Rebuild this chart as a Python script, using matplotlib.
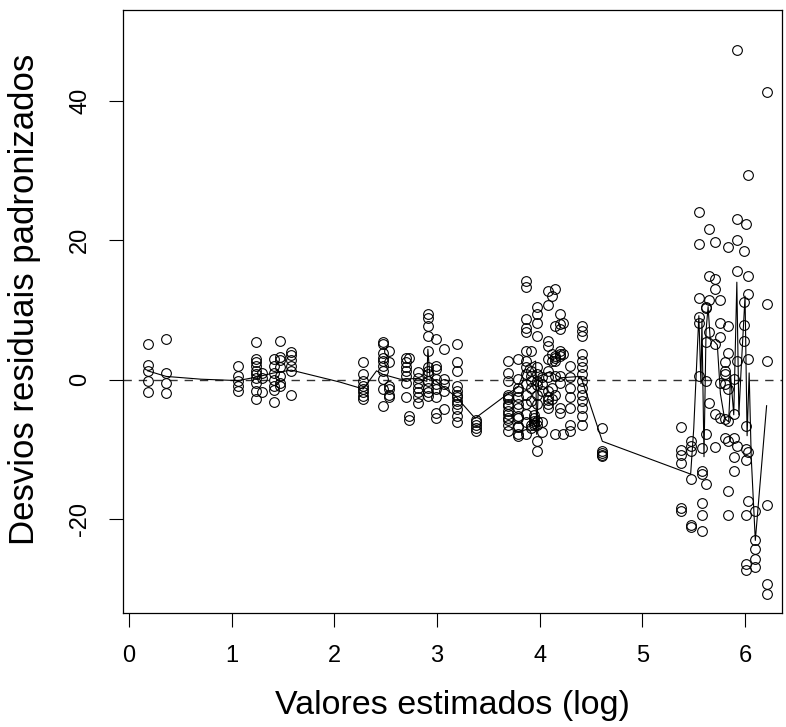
import matplotlib
matplotlib.use("Agg")
import matplotlib.pyplot as plt
import numpy as np

# x position of each vertical stack of points (log of fitted value)
grupos_x = [0.18, 0.36, 1.06, 1.24, 1.29, 1.41, 1.47, 1.58,
            2.28, 2.47, 2.53, 2.70, 2.73, 2.81, 2.91, 2.99, 3.07, 3.19, 3.38,
            3.69, 3.79, 3.87, 3.91, 3.94, 3.97, 4.02, 4.08, 4.12, 4.15, 4.20, 4.23, 4.29, 4.41, 4.61,
            5.38, 5.47, 5.55, 5.58, 5.62, 5.65, 5.71, 5.76, 5.80, 5.83, 5.89, 5.92,
            5.99, 6.01, 6.03, 6.10, 6.21]

# standardized deviance residuals in each stack
grupos_desvios = [
    [5.2, 2.1, 1.3, -0.1, -1.7],
    [5.8, 1.0, -0.4, -1.9],
    [2.0, 0.6, -0.1, -0.9, -1.6],
    [5.4, 3.0, 2.6, 2.0, 1.3, 0.9, 0.3, -0.4, -1.6, -2.8],
    [1.0, 0.3, -1.8],
    [3.0, 2.0, 1.0, 0.0, -0.9, -1.5, -3.2],
    [5.6, 3.3, 2.8, 1.9, 0.6, -0.4, -0.9],
    [4.0, 3.5, 2.8, 2.0, 1.3, -2.2],
    [2.5, 0.8, -0.2, -0.9, -1.3, -1.8, -2.3, -2.8],
    [5.4, 5.1, 3.9, 3.2, 2.7, 2.0, 1.3, 0.1, -1.3, -3.7],
    [4.2, 2.5, -0.9, -1.3, -2.1, -2.5],
    [3.2, 2.5, 1.8, 1.3, 0.6, -0.4, -2.5],
    [3.2, -5.2, -5.7],
    [1.1, 0.3, -0.4, -1.1, -1.8, -2.5, -3.3],
    [9.4, 8.9, 7.7, 6.3, 4.2, 1.8, 1.3, 0.8, -0.1, -1.1, -1.8, -2.3],
    [5.8, 2.0, 1.5, 0.1, -0.6, -1.3, -2.5, -4.7, -5.4],
    [4.4, 0.1, -0.6, -1.6, -4.2],
    [5.2, 2.5, 1.3, -0.9, -1.6, -2.1, -2.5, -3.0, -3.5, -4.2, -5.2, -6.1],
    [-5.7, -6.1, -6.4, -6.9, -7.3],
    [2.7, 1.0, -0.1, -2.1, -2.5, -2.8, -3.5, -3.7, -4.4, -4.9, -5.4, -5.7, -6.4, -7.3],
    [3.0, 0.1, -1.1, -1.6, -2.5, -3.5, -4.0, -5.2, -5.4, -6.6, -6.8, -7.8, -8.0],
    [14.2, 13.3, 8.7, 7.5, 6.8, 4.2, 2.7, 1.8, 0.8, -0.6, -2.1, -3.5, -4.9, -6.1, -7.8],
    [4.2, 1.3, 0.6, -0.1, -1.1, -3.0, -6.4, -6.9],
    [-5.0, -5.5, -5.9, -6.2, -6.5],
    [10.4, 9.4, 8.2, 6.3, 1.8, 0.8, -0.1, -0.8, -2.1, -3.5, -5.9, -6.4, -8.7, -10.2],
    [0.4, -0.6, -1.6, -6.1, -7.5],
    [12.8, 10.8, 5.6, 4.9, 3.0, 1.3, 0.4, -1.6, -2.5, -2.9, -3.5, -4.0],
    [12.0, 3.7, 2.7, -1.1, -2.8],
    [13.0, 7.7, 3.4, 3.2, 2.7, 0.6, -2.1, -7.8],
    [9.4, 8.0, 7.3, 4.2, 3.7, 3.4, 0.6, -0.4, -4.0, -4.7],
    [8.2, 3.7, -7.8],
    [2.0, 0.4, -1.1, -2.5, -4.0, -6.4, -7.3],
    [7.7, 7.0, 6.3, 3.7, 2.7, 1.8, 0.8, -0.1, -1.1, -2.1, -3.0, -4.0, -5.2, -6.4],
    [-6.9, -10.2, -10.5, -10.7, -10.9],
    [-6.7, -10.0, -10.7, -11.9, -18.3, -18.8],
    [-8.7, -9.5, -10.2, -14.2, -20.8, -21.1],
    [24.0, 19.5, 11.8, 9.0, 8.2, 0.6],
    [-9.7, -13.1, -13.5, -17.6, -19.4, -21.7],
    [10.3, 10.4, 5.4, -0.1, -7.8, -14.9],
    [21.6, 14.9, 11.5, 6.8, -3.3],
    [19.8, 14.5, 13.0, 5.2, -4.9, -9.6],
    [11.5, 8.1, 6.1, -0.4, -5.4],
    [2.5, 1.3, 0.8, -0.6, -5.6, -8.3],
    [19.0, 7.7, 3.9, -1.3, -5.9, -8.7, -15.9, -19.4],
    [0.2, -4.9, -8.3, -11.1, -13.0],
    [47.3, 23.0, 20.0, 15.6, 2.7, -9.4],
    [18.4, 11.1, 7.8, 5.6],
    [22.4, -6.6, -9.9, -11.5, -19.4, -26.4, -27.2],
    [29.4, 14.9, 12.3, 3.0, -10.4, -17.4],
    [-18.8, -23.0, -24.3, -25.7, -26.8],
    [41.2, 10.9, 2.7, -17.9, -29.2, -30.7],
]

# smooth curve drawn over the points
curva_x = [0.18, 0.36, 0.70, 1.06, 1.24, 1.41, 1.58, 2.05, 2.28, 2.41, 2.47, 2.64, 2.81,
           2.90, 2.91, 2.93, 3.19, 3.37, 3.68, 3.79, 3.87, 3.96, 3.97, 3.99, 4.10, 4.20,
           4.40, 4.61, 5.47, 5.50, 5.55, 5.57, 5.58, 5.60, 5.62, 5.64, 5.66, 5.70, 5.73,
           5.76, 5.80, 5.84, 5.86, 5.89, 5.92, 5.94, 5.96, 6.00, 6.02, 6.04, 6.06, 6.10, 6.21]
curva_y = [1.3, 0.5, 0.1, -0.1, 0.4, 1.0, 1.4, -0.3, -1.3, 1.3, 0.8, 0.1, 0.2,
           -0.2, 4.4, 0.5, -2.5, -5.5, -2.1, -1.0, 2.0, 2.7, -7.8, 0.5, 1.2, 0.3,
           0.5, -8.8, -13.5, -7.0, 9.2, -0.5, 8.5, -11.0, 7.0, 10.5, 6.0, 5.5, 5.0,
           -2.0, -5.5, -6.0, 0.5, -5.0, 14.0, -5.0, 1.0, 12.0, -8.0, 1.0, -11.0, -23.0, -3.7]

x_ticks = [0, 1, 2, 3, 4, 5, 6]
y_ticks = [-20, 0, 20, 40]

plt.rcParams['font.family'] = ['Liberation Sans', 'DejaVu Sans']
plt.rcParams['axes.unicode_minus'] = False

fig = plt.figure(figsize=(7.86, 7.27), dpi=100)
ax = fig.add_axes([123 / 786, 114 / 727, 659 / 786, 603 / 727])

px = np.repeat(grupos_x, [len(g) for g in grupos_desvios])
py = np.concatenate([np.array(g) for g in grupos_desvios])

ax.plot(px, py, 'o', mfc='none', mec='black', ms=7, mew=0.8, zorder=3)
ax.plot(curva_x, curva_y, color='black', lw=0.8, zorder=2)
ax.axhline(0, color='#333333', lw=1, linestyle=(0, (6, 5)), zorder=1)

ax.set_xlim(-0.06, 6.36)
ax.set_ylim(-33.4, 53.0)
ax.set_xticks(x_ticks)
ax.set_yticks(y_ticks)
ax.tick_params(direction='out', length=10, width=0.8, labelsize=17, pad=13)
for lbl in ax.get_yticklabels():
    lbl.set_rotation(90)
    lbl.set_va('center')
for s in ax.spines.values():
    s.set_linewidth(0.9)

ax.set_xlabel('Valores estimados (log)', fontsize=24.5)
ax.set_ylabel('Desvios residuais padronizados', fontsize=25)
ax.xaxis.set_label_coords(0.5, -0.153)
ax.yaxis.set_label_coords(-0.149, 0.52)
ax.xaxis.label.set_va('center')
ax.yaxis.label.set_va('center')

fig.savefig('out.png', dpi=100)
